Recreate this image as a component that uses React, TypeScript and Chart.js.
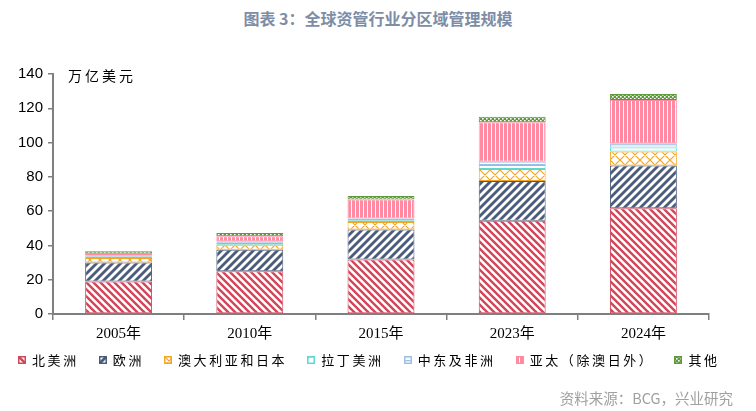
import React, { useEffect, useRef } from "react";
import { Chart, registerables } from "chart.js";

Chart.register(...registerables);

const categories = ["2005年", "2010年", "2015年", "2023年", "2024年"];
const northAmerica = [19.0, 24.9, 31.8, 54.4, 61.7];
const europe = [11.0, 12.6, 17.5, 23.2, 24.9];
const ausJapan = [2.6, 2.9, 4.4, 7.0, 8.2];
const latinAmerica = [0.8, 1.2, 1.0, 2.3, 2.3];
const middleEastAfrica = [0.6, 0.8, 1.0, 1.9, 2.5];
const asiaPacific = [1.2, 2.9, 11.1, 23.0, 25.3];
const others = [1.4, 1.9, 2.1, 3.3, 3.5];
const seriesNames = ["北美洲", "欧洲", "澳大利亚和日本", "拉丁美洲", "中东及非洲", "亚太（除澳日外）", "其他"];
const seriesValues = [northAmerica, europe, ausJapan, latinAmerica, middleEastAfrica, asiaPacific, others];
const yMin = 0;
const yMax = 140;
const yStep = 20;

const seriesColors = ["#D2465A", "#4A5B7B", "#F5A524", "#5FD8D2", "#9EC0E4", "#FF8AA2", "#5E9A3C"];
const seriesKinds = ["back", "fwd", "cross", "ruler", "hlines", "vlines", "checker"];

function makeTile(kind: string, color: string): HTMLCanvasElement {
  const c = document.createElement("canvas");
  let s = 8;
  if (kind === "back") s = 7;
  if (kind === "fwd") s = 8;
  if (kind === "cross") s = 10;
  if (kind === "ruler") s = 8;
  if (kind === "hlines") s = 4;
  if (kind === "vlines") s = 4;
  if (kind === "checker") s = 4;
  c.width = s;
  c.height = s;
  const g = c.getContext("2d")!;
  g.fillStyle = "#ffffff";
  g.fillRect(0, 0, s, s);
  g.strokeStyle = color;
  g.fillStyle = color;
  if (kind === "back") {
    g.lineWidth = 2.4;
    g.beginPath();
    for (let k = -1; k <= 1; k++) {
      g.moveTo(k * s - 1, -1);
      g.lineTo(k * s + s + 1, s + 1);
    }
    g.stroke();
  } else if (kind === "fwd") {
    g.lineWidth = 2.8;
    g.beginPath();
    for (let k = -1; k <= 1; k++) {
      g.moveTo(k * s - 1, s + 1);
      g.lineTo(k * s + s + 1, -1);
    }
    g.stroke();
  } else if (kind === "cross") {
    g.lineWidth = 1.2;
    g.beginPath();
    for (let k = -1; k <= 1; k++) {
      g.moveTo(k * s - 1, -1);
      g.lineTo(k * s + s + 1, s + 1);
      g.moveTo(k * s - 1, s + 1);
      g.lineTo(k * s + s + 1, -1);
    }
    g.stroke();
  } else if (kind === "ruler") {
    g.fillRect(0, 0, s, 1.5);
    g.fillRect(0, 0, 1.5, 3);
  } else if (kind === "hlines") {
    g.fillRect(0, 0, s, 1.3);
  } else if (kind === "vlines") {
    g.fillRect(0, 0, 3, s);
  } else if (kind === "checker") {
    g.fillRect(0, 0, s, s);
    g.fillStyle = "#ffffff";
    g.fillRect(0, 0, 1.6, 1.6);
    g.fillRect(2, 2, 1.6, 1.6);
  }
  return c;
}

export default function App() {
  const canvasRef = useRef<HTMLCanvasElement | null>(null);
  const swatchRefs = useRef<(HTMLCanvasElement | null)[]>([]);

  useEffect(() => {
    const canvas = canvasRef.current!;
    const ctx = canvas.getContext("2d")!;
    const patterns = seriesColors.map((col, i) => ctx.createPattern(makeTile(seriesKinds[i], col), "repeat")!);

    swatchRefs.current.forEach((sw, i) => {
      if (!sw) return;
      const g = sw.getContext("2d")!;
      g.clearRect(0, 0, sw.width, sw.height);
      g.fillStyle = g.createPattern(makeTile(seriesKinds[i], seriesColors[i]), "repeat")!;
      g.fillRect(0, 0, sw.width, sw.height);
      g.strokeStyle = seriesColors[i];
      g.lineWidth = 1.5;
      g.strokeRect(0.75, 0.75, sw.width - 1.5, sw.height - 1.5);
    });

    const chart = new Chart(ctx, {
      type: "bar",
      data: {
        labels: categories,
        datasets: seriesValues.map((vals, i) => ({
          label: seriesNames[i],
          data: vals,
          backgroundColor: patterns[i],
          borderColor: seriesColors[i],
          borderWidth: 1,
          borderSkipped: false,
          categoryPercentage: 1,
          barPercentage: 0.51,
        })),
      },
      options: {
        responsive: false,
        animation: false,
        devicePixelRatio: 1,
        layout: { padding: { left: 0, right: 47, top: 74, bottom: 57 } },
        plugins: { legend: { display: false }, tooltip: { enabled: false }, title: { display: false } },
        scales: {
          x: {
            stacked: true,
            offset: true,
            grid: {
              display: true,
              offset: true,
              drawOnChartArea: false,
              drawTicks: true,
              tickLength: 6,
              color: "#7F7F7F",
              lineWidth: 1.5,
            },
            border: { display: true, color: "#7F7F7F", width: 2 },
            ticks: {
              color: "#000000",
              padding: 5,
              font: { family: "'Liberation Serif', 'Noto Sans CJK SC', serif", size: 15 },
            },
            afterFit: (scale: any) => {
              scale.height = 40;
            },
          },
          y: {
            stacked: true,
            min: yMin,
            max: yMax,
            ticks: {
              stepSize: yStep,
              color: "#000000",
              padding: 5,
              font: { family: "'Liberation Sans', Arial, sans-serif", size: 15 },
            },
            grid: {
              display: true,
              drawOnChartArea: false,
              drawTicks: true,
              tickLength: 5,
              color: "#7F7F7F",
              lineWidth: 1.5,
            },
            border: { display: true, color: "#7F7F7F", width: 2 },
            afterFit: (scale: any) => {
              scale.width = 53;
            },
          },
        },
      },
    });
    return () => chart.destroy();
  }, []);

  return (
    <div
      style={{
        position: "fixed",
        left: 0,
        top: 0,
        width: 756,
        height: 411,
        background: "#ffffff",
        overflow: "hidden",
        fontFamily: "'Noto Sans CJK SC', sans-serif",
      }}
    >
      <div
        style={{
          position: "absolute",
          left: 0,
          top: 6,
          width: 756,
          textAlign: "center",
          fontSize: 16,
          fontWeight: 700,
          color: "#7D8DA6",
          lineHeight: "24px",
        }}
      >
        图表 3：全球资管行业分区域管理规模
      </div>
      <canvas ref={canvasRef} width={756} height={411} style={{ position: "absolute", left: 0, top: 0, width: 756, height: 411 }} />
      <div
        style={{
          position: "absolute",
          left: 68,
          top: 65,
          fontSize: 14,
          letterSpacing: 3,
          color: "#000000",
          lineHeight: "20px",
        }}
      >
        万亿美元
      </div>
      <div
        style={{
          position: "absolute",
          left: 18,
          top: 350,
          display: "flex",
          alignItems: "center",
          gap: 20,
          fontSize: 13,
          letterSpacing: 2.6,
          lineHeight: "20px",
          color: "#000000",
          whiteSpace: "nowrap",
        }}
      >
        {seriesNames.map((name, i) => (
          <div key={name} style={{ display: "flex", alignItems: "center" }}>
            <canvas
              ref={(el) => {
                swatchRefs.current[i] = el;
              }}
              width={8}
              height={8}
              style={{ width: 8, height: 8, marginRight: 6 }}
            />
            <span>{name}</span>
          </div>
        ))}
      </div>
      <div
        style={{
          position: "absolute",
          right: 23,
          top: 387,
          fontSize: 14.5,
          color: "#A0A0A0",
          lineHeight: "22px",
        }}
      >
        资料来源：BCG，兴业研究
      </div>
    </div>
  );
}
